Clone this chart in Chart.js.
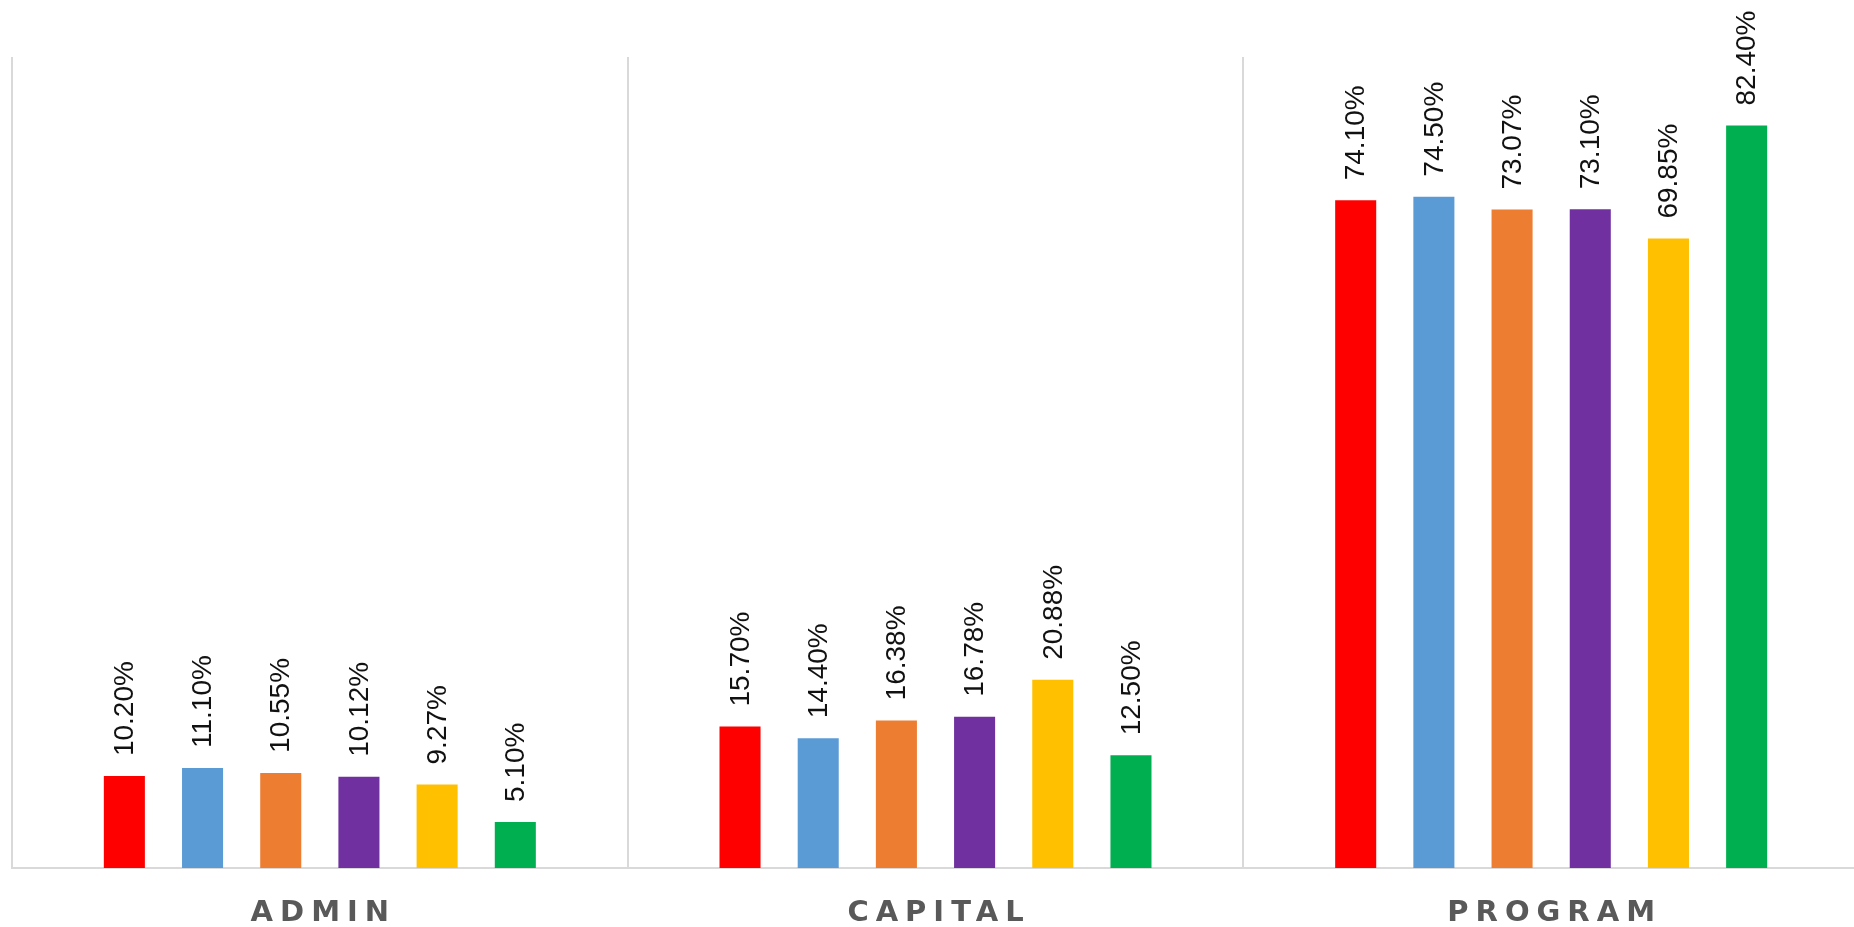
<!DOCTYPE html>
<html>
<head>
<meta charset="utf-8">
<script src="https://cdn.jsdelivr.net/npm/chart.js@4"></script>
<style>
  html, body { margin: 0; padding: 0; background: #ffffff; overflow: hidden; }
  #wrap { position: absolute; left: 0; top: 0; width: 1860px; height: 927px; }
</style>
</head>
<body>
<div id="wrap"><canvas id="c"></canvas></div>
<script>
const categories = ["ADMIN", "CAPITAL", "PROGRAM"];
const series1 = [10.20, 15.70, 74.10];
const series2 = [11.10, 14.40, 74.50];
const series3 = [10.55, 16.38, 73.07];
const series4 = [10.12, 16.78, 73.10];
const series5 = [9.27, 20.88, 69.85];
const series6 = [5.10, 12.50, 82.40];
const seriesNames = ["Series 1", "Series 2", "Series 3", "Series 4", "Series 5", "Series 6"];
const seriesColors = ["#ff0000", "#5b9bd5", "#ed7d31", "#7030a0", "#ffc000", "#00b050"];
const allSeries = [series1, series2, series3, series4, series5, series6];

const labelPlugin = {
  id: "valueLabels",
  afterDatasetsDraw(chart) {
    const ctx = chart.ctx;
    // value labels
    ctx.save();
    ctx.font = "28px 'Liberation Sans', Arial, sans-serif";
    ctx.fillStyle = "#111111";
    ctx.textAlign = "left";
    ctx.textBaseline = "middle";
    chart.data.datasets.forEach((ds, i) => {
      const meta = chart.getDatasetMeta(i);
      meta.data.forEach((el, j) => {
        const v = ds.data[j];
        ctx.save();
        ctx.translate(el.x, el.y - 20);
        ctx.rotate(-Math.PI / 2);
        ctx.fillText(v.toFixed(2) + "%", 0, 1);
        ctx.restore();
      });
    });
    ctx.restore();
    // category labels (spaced capitals)
    const xs = chart.scales.x;
    ctx.save();
    ctx.font = "bold 29px 'DejaVu Sans', sans-serif";
    ctx.letterSpacing = "7px";
    ctx.fillStyle = "#595959";
    ctx.textAlign = "center";
    ctx.textBaseline = "middle";
    chart.data.labels.forEach((lab, i) => {
      ctx.fillText(lab, xs.getPixelForTick(i) + 3.5, chart.chartArea.bottom + 45);
    });
    ctx.restore();
  }
};

new Chart(document.getElementById("c"), {
  type: "bar",
  data: {
    labels: categories,
    datasets: allSeries.map((d, i) => ({
      label: seriesNames[i],
      data: d,
      backgroundColor: seriesColors[i],
      borderWidth: 0,
      categoryPercentage: 0.762,
      barPercentage: 0.525
    }))
  },
  options: {
    responsive: true,
    maintainAspectRatio: false,
    animation: false,
    layout: { padding: { top: 57, left: 12, right: 1, bottom: 59 } },
    plugins: {
      legend: { display: false },
      tooltip: { enabled: false },
      title: { display: false }
    },
    scales: {
      x: {
        offset: true,
        grid: { offset: true, color: "#d9d9d9", lineWidth: 2, drawTicks: false },
        border: { color: "#d9d9d9", width: 2 },
        ticks: { display: false }
      },
      y: {
        display: false,
        min: 0,
        max: 90
      }
    }
  },
  plugins: [labelPlugin]
});
</script>
</body>
</html>
